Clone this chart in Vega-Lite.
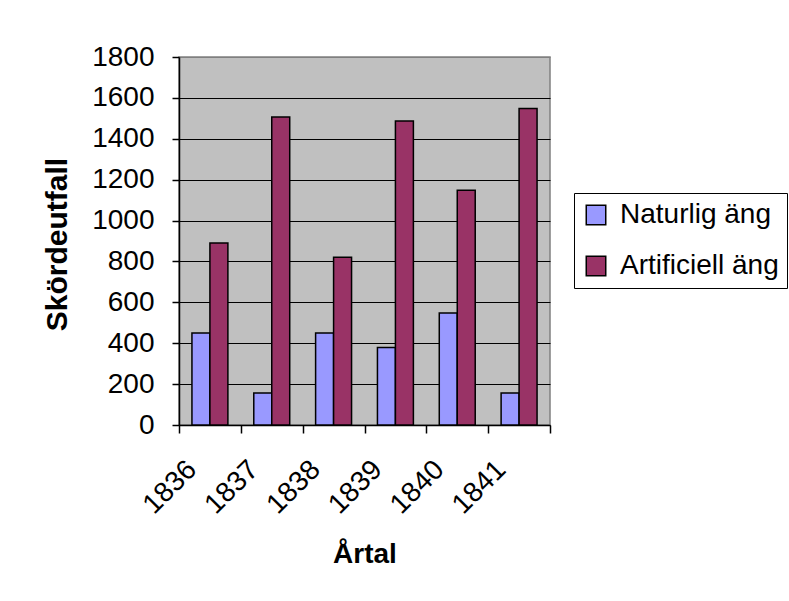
{
  "$schema": "https://vega.github.io/schema/vega-lite/v6.json",
  "width": 371,
  "height": 368,
  "autosize": "none",
  "padding": {"left": 179, "top": 57, "right": 239, "bottom": 176},
  "background": "white",
  "config": {
    "font": "Liberation Sans",
    "view": {"stroke": "#808080", "strokeWidth": 1.5, "fill": "#C0C0C0"}
  },
  "data": {
    "values": [
      {"year": "1836", "type": "Naturlig äng", "value": 450},
      {"year": "1836", "type": "Artificiell äng", "value": 890},
      {"year": "1837", "type": "Naturlig äng", "value": 157},
      {"year": "1837", "type": "Artificiell äng", "value": 1507},
      {"year": "1838", "type": "Naturlig äng", "value": 450},
      {"year": "1838", "type": "Artificiell äng", "value": 821},
      {"year": "1839", "type": "Naturlig äng", "value": 379},
      {"year": "1839", "type": "Artificiell äng", "value": 1487},
      {"year": "1840", "type": "Naturlig äng", "value": 548},
      {"year": "1840", "type": "Artificiell äng", "value": 1148},
      {"year": "1841", "type": "Naturlig äng", "value": 157},
      {"year": "1841", "type": "Artificiell äng", "value": 1548}
    ]
  },
  "mark": {"type": "bar", "stroke": "black", "strokeWidth": 1.5},
  "encoding": {
    "x": {
      "field": "year",
      "type": "nominal",
      "scale": {"paddingInner": 0, "paddingOuter": 0},
      "axis": {
        "title": "Årtal",
        "titleFontSize": 28,
        "titleFontWeight": "bold",
        "titleColor": "black",
        "titleBaseline": "middle",
        "titleY": 129,
        "labelAngle": -45,
        "labelAlign": "right",
        "labelBaseline": "middle",
        "labelFontSize": 28,
        "labelColor": "black",
        "labelPadding": 32,
        "labelOffset": -18,
        "tickBand": "extent",
        "tickSize": 8,
        "tickColor": "black",
        "tickWidth": 1.5,
        "domainColor": "black",
        "domainWidth": 1.5
      }
    },
    "xOffset": {
      "field": "type",
      "sort": ["Naturlig äng", "Artificiell äng"],
      "scale": {"paddingInner": 0, "paddingOuter": 0.72}
    },
    "y": {
      "field": "value",
      "type": "quantitative",
      "scale": {"domain": [0, 1800], "nice": false},
      "axis": {
        "title": "Skördeutfall",
        "titleFontSize": 30,
        "titleFontWeight": "bold",
        "titleColor": "black",
        "titleAngle": -90,
        "titleBaseline": "middle",
        "titleX": -122,
        "titleY": 187,
        "values": [0, 200, 400, 600, 800, 1000, 1200, 1400, 1600, 1800],
        "format": "d",
        "labelFontSize": 28,
        "labelColor": "black",
        "labelPadding": 18,
        "tickSize": 7,
        "tickColor": "black",
        "tickWidth": 1.5,
        "domainColor": "black",
        "domainWidth": 1.5,
        "grid": true,
        "gridColor": {"condition": {"test": "datum.value == 1800", "value": "#808080"}, "value": "black"},
        "gridWidth": 1.2,
        "gridOpacity": 1
      }
    },
    "fill": {
      "field": "type",
      "type": "nominal",
      "sort": ["Naturlig äng", "Artificiell äng"],
      "scale": {"domain": ["Naturlig äng", "Artificiell äng"], "range": ["#9999FF", "#993366"]},
      "legend": {
        "title": null,
        "orient": "none",
        "legendX": 395,
        "legendY": 136,
        "strokeColor": "black",
        "fillColor": "white",
        "padding": 8,
        "symbolType": "square",
        "symbolSize": 380,
        "symbolStrokeColor": "black",
        "symbolStrokeWidth": 1.5,
        "symbolOpacity": 1,
        "labelFontSize": 28,
        "labelColor": "black",
        "labelOffset": 10,
        "rowPadding": 23,
        "labelLimit": 300
      }
    }
  }
}
